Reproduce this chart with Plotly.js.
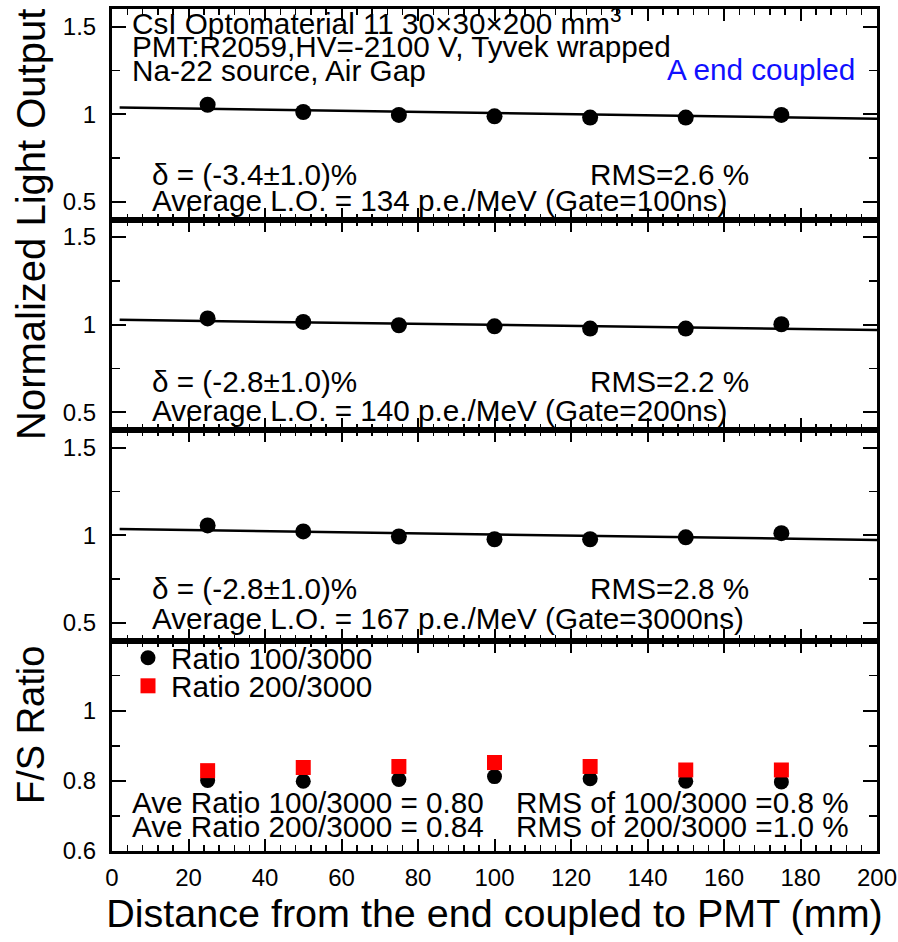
<!DOCTYPE html>
<html>
<head>
<meta charset="utf-8">
<script src="https://cdn.plot.ly/plotly-3.0.1.min.js"></script>
<style>html,body{margin:0;padding:0;background:#fff;}#chart{width:898px;height:942px;}</style>
</head>
<body>
<div id="chart"></div>
<script>
// ---- data ----
const distance = [25, 50, 75, 100, 125, 150, 175];
const lo100  = [1.054, 1.013, 0.996, 0.988, 0.981, 0.981, 0.996];
const lo200  = [1.036, 1.016, 0.997, 0.991, 0.978, 0.978, 1.003];
const lo3000 = [1.056, 1.022, 0.993, 0.977, 0.977, 0.988, 1.012];
const fitX    = [2, 200];
const fit100  = [1.039, 0.975];
const fit200  = [1.028, 0.970];
const fit3000 = [1.035, 0.973];
const ratio100 = [0.801, 0.799, 0.804, 0.812, 0.806, 0.799, 0.797];
const ratio200 = [0.829, 0.838, 0.841, 0.852, 0.841, 0.831, 0.831];
const xTicks = [0, 20, 40, 60, 80, 100, 120, 140, 160, 180, 200];
const loTicks = [0.5, 1, 1.5];
const loTickText = ['0.5', '1', '1.5'];
const ratioTicks = [0.6, 0.8, 1];
const ratioTickText = ['0.6', '0.8', '1'];

const FONT = 'Liberation Sans, Arial, sans-serif';
const TXT = 29.7;

function pointTrace(y, i) {
  return {x: distance, y: y, xaxis: i === 1 ? 'x' : 'x' + i, yaxis: i === 1 ? 'y' : 'y' + i,
    mode: 'markers', type: 'scatter', showlegend: false,
    marker: {symbol: 'circle', size: 16, color: 'black'}};
}
function fitTrace(y, i) {
  return {x: fitX, y: y, xaxis: i === 1 ? 'x' : 'x' + i, yaxis: i === 1 ? 'y' : 'y' + i,
    mode: 'lines', type: 'scatter', showlegend: false,
    line: {color: 'black', width: 2.5}};
}

const traces = [
  fitTrace(fit100, 1), pointTrace(lo100, 1),
  fitTrace(fit200, 2), pointTrace(lo200, 2),
  fitTrace(fit3000, 3), pointTrace(lo3000, 3),
  {x: distance, y: ratio100, xaxis: 'x4', yaxis: 'y4', mode: 'markers', type: 'scatter',
   name: 'Ratio 100/3000', legend: 'legend',
   marker: {symbol: 'circle', size: 15, color: 'black'}},
  {x: distance, y: ratio200, xaxis: 'x4', yaxis: 'y4', mode: 'markers', type: 'scatter',
   name: 'Ratio 200/3000', legend: 'legend2',
   marker: {symbol: 'square', size: 15, color: '#ff0000'}}
];

const domains = [[0.75, 1], [0.5, 0.75], [0.25, 0.5], [0, 0.25]];

function xAxis(i) {
  const ax = {
    domain: [0, 1], anchor: i === 1 ? 'y' : 'y' + i, range: [0, 200],
    showline: true, linewidth: 3, linecolor: 'black', mirror: 'allticks',
    ticks: 'inside', ticklen: 12, tickwidth: 2, tickcolor: 'black',
    tickvals: xTicks, ticktext: xTicks.map(String),
    minor: {dtick: 4, tick0: 0, ticks: 'inside', ticklen: 6, tickwidth: 1.5, tickcolor: 'black', showgrid: false},
    showgrid: false, zeroline: false, showticklabels: i === 4,
    tickfont: {family: FONT, size: 24, color: 'black'}, ticklabelstandoff: 3
  };
  if (i > 1) ax.matches = 'x';
  if (i === 4) {
    ax.title = {text: 'Distance from the end coupled to PMT (mm)', font: {family: FONT, size: 39.5, color: 'black'}, standoff: 10};
  }
  return ax;
}
function yAxis(i) {
  const isRatio = i === 4;
  return {
    domain: domains[i - 1], anchor: i === 1 ? 'x' : 'x' + i,
    range: isRatio ? [0.6, 1.2] : [0.4, 1.6],
    showline: true, linewidth: 3, linecolor: 'black', mirror: 'allticks',
    ticks: 'inside', ticklen: 14, tickwidth: 2, tickcolor: 'black',
    tickvals: isRatio ? ratioTicks : loTicks,
    ticktext: isRatio ? ratioTickText : loTickText,
    minor: {tickvals: isRatio ? [0.7, 0.9, 1.1] : [0.75, 1.25], ticks: 'inside', ticklen: 8, tickwidth: 1.5, tickcolor: 'black', showgrid: false},
    showgrid: false, zeroline: false,
    tickfont: {family: FONT, size: 24, color: 'black'}, ticklabelstandoff: 8
  };
}

// pixel helpers for text placement (plot area: left 112, top 9, width 765, height 842)
const L = 112, T = 9, W = 765, H = 842;
const px = v => (v - L) / W;
const py = v => (T + H - v) / H;

function note(text, x, y, opts) {
  return Object.assign({text: text, xref: 'paper', yref: 'paper', x: px(x), y: py(y),
    xanchor: 'left', yanchor: 'middle', showarrow: false,
    font: {family: FONT, size: TXT, color: 'black'}}, opts || {});
}

const annotations = [
  note('CsI Optomaterial 11 30×30×200 mm<sup>3</sup>', 130, 21),
  note('PMT:R2059,HV=-2100 V, Tyvek wrapped', 130, 46),
  note('Na-22 source, Air Gap', 130, 70),
  note('A end coupled', 857, 69, {xanchor: 'right', font: {family: FONT, size: TXT, color: '#1010ff'}}),

  note('δ = (-3.4±1.0)%', 150, 174),
  note('RMS=2.6 %', 588, 174),
  note('Average L.O. = 134 p.e./MeV (Gate=100ns)', 150, 201),

  note('δ = (-2.8±1.0)%', 150, 381),
  note('RMS=2.2 %', 588, 381),
  note('Average L.O. = 140 p.e./MeV (Gate=200ns)', 150, 410),

  note('δ = (-2.8±1.0)%', 150, 588),
  note('RMS=2.8 %', 588, 588),
  note('Average L.O. = 167 p.e./MeV (Gate=3000ns)', 150, 618),

  note('Ave Ratio 100/3000 = 0.80', 130, 802),
  note('RMS of 100/3000 =0.8 %', 514, 802),
  note('Ave Ratio 200/3000 = 0.84', 130, 826),
  note('RMS of 200/3000 =1.0 %', 514, 826),

  {text: 'Normalized Light Output', xref: 'paper', yref: 'paper', x: px(31), y: py(225),
   xanchor: 'center', yanchor: 'middle', textangle: -90, showarrow: false,
   font: {family: FONT, size: 40, color: 'black'}},
  {text: 'F/S Ratio', xref: 'paper', yref: 'paper', x: px(31), y: py(725),
   xanchor: 'center', yanchor: 'middle', textangle: -90, showarrow: false,
   font: {family: FONT, size: 38, color: 'black'}}
];

const legendBase = {xref: 'paper', yref: 'paper', xanchor: 'left', yanchor: 'middle',
  bgcolor: 'rgba(0,0,0,0)', borderwidth: 0, font: {family: FONT, size: TXT, color: 'black'},
  tracegroupgap: 0, itemclick: false, itemwidth: 36};

const layout = {
  width: 898, height: 942,
  margin: {l: L, r: 898 - L - W, t: T, b: 942 - T - H, pad: 0},
  paper_bgcolor: 'white', plot_bgcolor: 'white',
  showlegend: true,
  legend: Object.assign({}, legendBase, {x: px(125), y: py(658)}),
  legend2: Object.assign({}, legendBase, {x: px(125), y: py(686)}),
  annotations: annotations,
  font: {family: FONT, color: 'black'}
};
for (let i = 1; i <= 4; i++) {
  layout[i === 1 ? 'xaxis' : 'xaxis' + i] = xAxis(i);
  layout[i === 1 ? 'yaxis' : 'yaxis' + i] = yAxis(i);
}

Plotly.newPlot('chart', traces, layout, {displayModeBar: false, staticPlot: true});
</script>
</body>
</html>
